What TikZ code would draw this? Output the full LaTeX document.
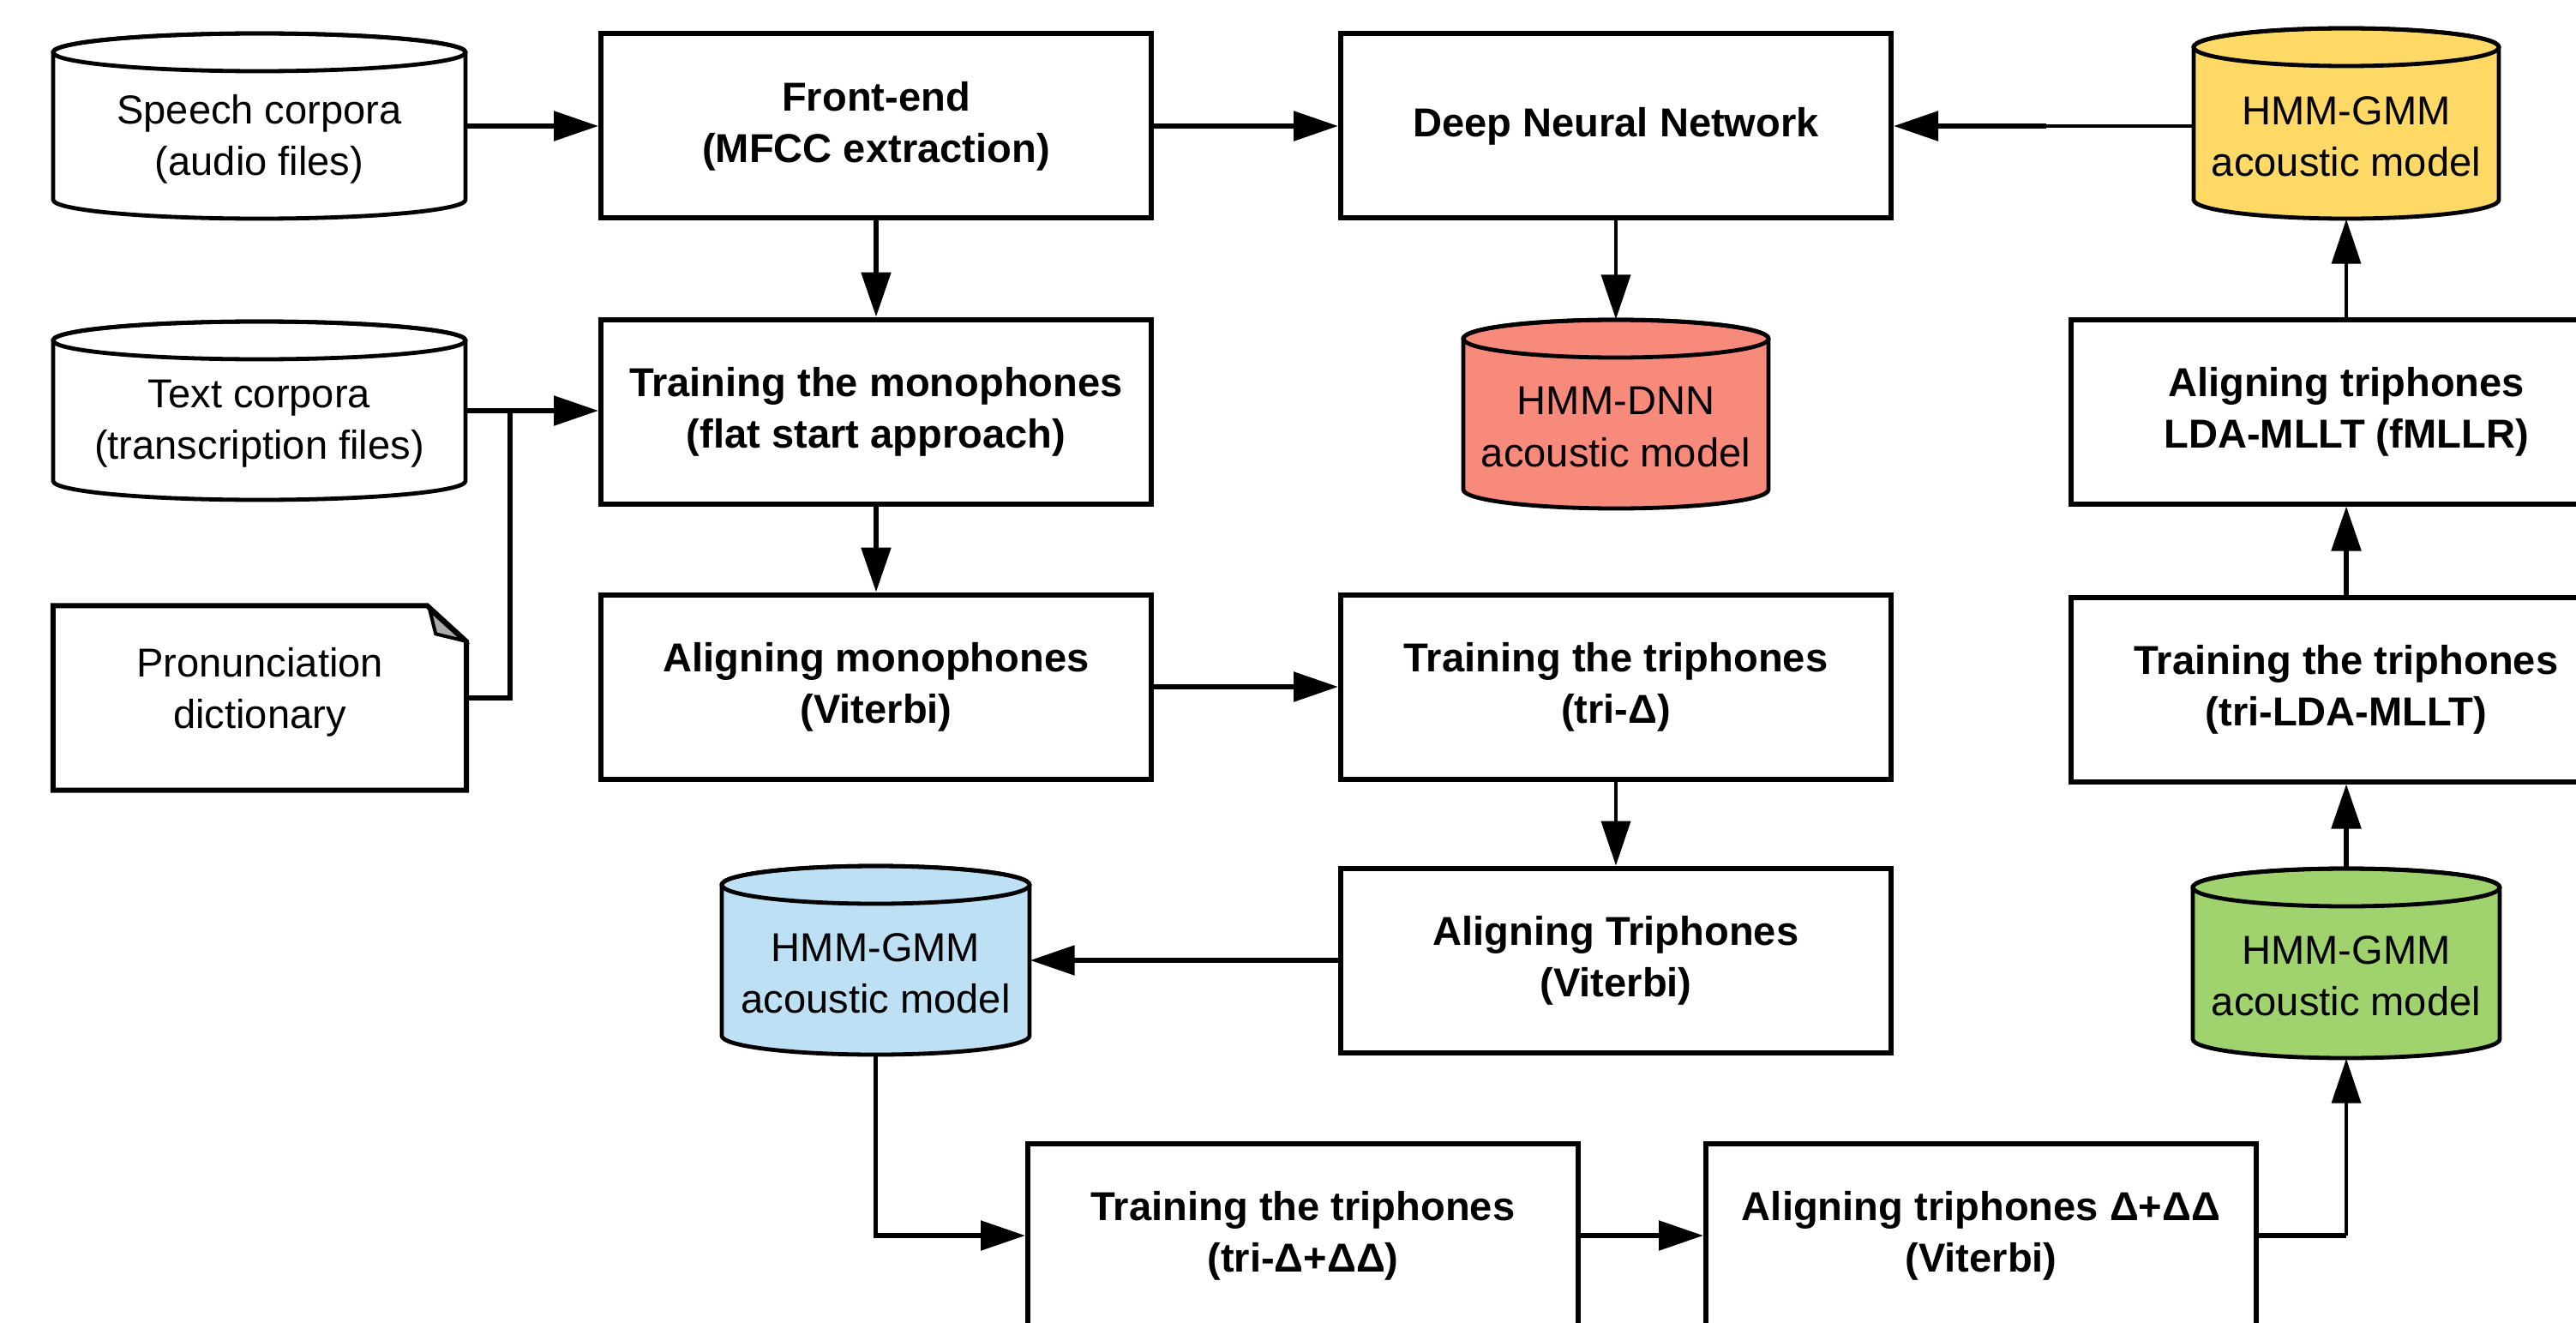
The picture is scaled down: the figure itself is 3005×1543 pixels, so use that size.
\documentclass[tikz,border=0pt]{standalone}
\usepackage{fontspec}
\setmainfont{Liberation Sans}
\usetikzlibrary{arrows.meta}
\definecolor{cyYellow}{RGB}{255,217,102}
\definecolor{cySalmon}{RGB}{248,138,124}
\definecolor{cyBlue}{RGB}{189,224,245}
\definecolor{cyGreen}{RGB}{160,211,110}
\definecolor{foldgray}{RGB}{170,170,170}
\newcommand\dfont{\fontsize{13.4}{17.1}\selectfont}
\newcommand\mycyl[7]{%
  \pgfmathsetmacro\cxx{(#2+#4)/2}%
  \pgfmathsetmacro\cyy{(#3+#5)/2}%
  \pgfmathsetmacro\rxx{(#4-#2)/20}%
  \pgfmathsetmacro\hh{(#5-#3)/10}%
  \pgfmathsetmacro\ww{(#4-#2)/10}%
  \filldraw[cylline, fill=#6] (#2,#3+22) -- (#2,#5-22)
     arc[start angle=180,end angle=360,x radius=\rxx mm,y radius=2.2mm]
     -- (#4,#3+22)
     arc[start angle=0,end angle=180,x radius=\rxx mm,y radius=2.2mm] -- cycle;
  \draw[cylline] (\cxx,#3+22) ellipse[x radius=\rxx mm,y radius=2.2mm];
  \node[minimum width=\ww mm, minimum height=\hh mm, inner sep=0pt] (#1) at (\cxx,\cyy) {};
  \node[cyltext] (#1t) at (\cxx,\cyy+15) {#7};
}
\begin{document}
\begin{tikzpicture}[x=0.1mm,y=-0.1mm,
  proc/.style={draw, line width=0.6mm, fill=white, minimum width=64.2mm, minimum height=21.5mm, inner sep=0pt, align=center, font=\dfont\bfseries},
  ln/.style={line width=0.55mm},
  thinln/.style={line width=0.38mm},
  arr/.style={ln, -{Triangle[length=5.2mm,width=3.4mm]}},
  thinarr/.style={thinln, -{Triangle[length=5.2mm,width=3.4mm]}},
  cylline/.style={line width=0.48mm},
  cyltext/.style={align=center, font=\dfont, inner sep=0pt},
]
\useasboundingbox (0,0) rectangle (3005,1543);
\clip (0,0) rectangle (3005,1543);

% process boxes
\node[proc] (front)   at (1022,147)  {Front-end\\(MFCC extraction)};
\node[proc] (dnn)     at (1885,147)  {Deep Neural Network};
\node[proc] (mono)    at (1022,480)  {Training the monophones\\(flat start approach)};
\node[proc] (ldaF)    at (2737,480)  {Aligning triphones\\LDA-MLLT (fMLLR)};
\node[proc] (alimono) at (1022,801)  {Aligning monophones\\(Viterbi)};
\node[proc] (triD)    at (1885,801)  {Training the triphones\\(tri-Δ)};
\node[proc] (triLDA)  at (2737,804)  {Training the triphones\\(tri-LDA-MLLT)};
\node[proc] (alitri)  at (1885,1120) {Aligning Triphones\\(Viterbi)};
\node[proc] (trainDD) at (1520,1441) {Training the triphones\\(tri-Δ+ΔΔ)};
\node[proc] (aliDD)   at (2311,1441) {Aligning triphones Δ+ΔΔ\\(Viterbi)};

% cylinders
\mycyl{speech}{62}{39}{543}{255}{white}{Speech corpora\\(audio files)}
\mycyl{textc}{62}{375}{543}{583}{white}{Text corpora\\(transcription files)}
\mycyl{yellow}{2559}{33}{2915}{255}{cyYellow}{HMM-GMM\\acoustic model}
\mycyl{hmmdnn}{1707}{373}{2063}{593}{cySalmon}{HMM-DNN\\acoustic model}
\mycyl{blue}{842}{1010}{1201}{1230}{cyBlue}{HMM-GMM\\acoustic model}
\mycyl{green}{2558}{1013}{2916}{1234}{cyGreen}{HMM-GMM\\acoustic model}

% note (pronunciation dictionary)
\node[minimum width=48.1mm, minimum height=21.4mm, inner sep=0pt] (pron) at (303,814) {};
\filldraw[line width=0.6mm, fill=white] (pron.south west) -- (pron.north west)
   -- ([xshift=-4.6mm]pron.north east) -- ([yshift=-4.2mm]pron.north east)
   -- (pron.south east) -- cycle;
\filldraw[line width=0.4mm, fill=foldgray] ([xshift=-4.3mm,yshift=-0.5mm]pron.north east)
   -- ([xshift=-3.6mm,yshift=-3.3mm]pron.north east)
   -- ([xshift=-0.3mm,yshift=-4.1mm]pron.north east) -- cycle;
\node[cyltext] (pront) at (303,807) {Pronunciation\\dictionary};

% connectors
\coordinate (jn) at (595,480);
\draw[arr] (speech.east) -- (front.west);
\draw[arr] (front.east) -- (dnn.west);
\draw[thinln] (yellow.west |- dnn.east) -- ([xshift=17.8mm]dnn.east);
\draw[arr] ([xshift=17.8mm]dnn.east) -- (dnn.east);
\draw[arr] (front.south) -- (mono.north);
\draw[thinarr] (dnn.south) -- (hmmdnn.north);
\draw[arr] (textc.east) -- (textc.east -| mono.west);
\draw[ln] (pron.east) -| (jn);
\draw[arr] (mono.south) -- (alimono.north);
\draw[arr] (alimono.east) -- (triD.west);
\draw[thinarr] (triD.south) -- (alitri.north);
\draw[arr] (alitri.west) -- (blue.east);
\draw[arr] (blue.south) |- (trainDD.west);
\draw[arr] (trainDD.east) -- (aliDD.west);
\draw[ln] (aliDD.east) -- (aliDD.east -| green.south);
\draw[thinarr] (aliDD.east -| green.south) -- (green.south);
\draw[arr] (green.north) -- (triLDA.south);
\draw[arr] (triLDA.north) -- (ldaF.south);
\draw[thinarr] (ldaF.north) -- (yellow.south);
\end{tikzpicture}
\end{document}
